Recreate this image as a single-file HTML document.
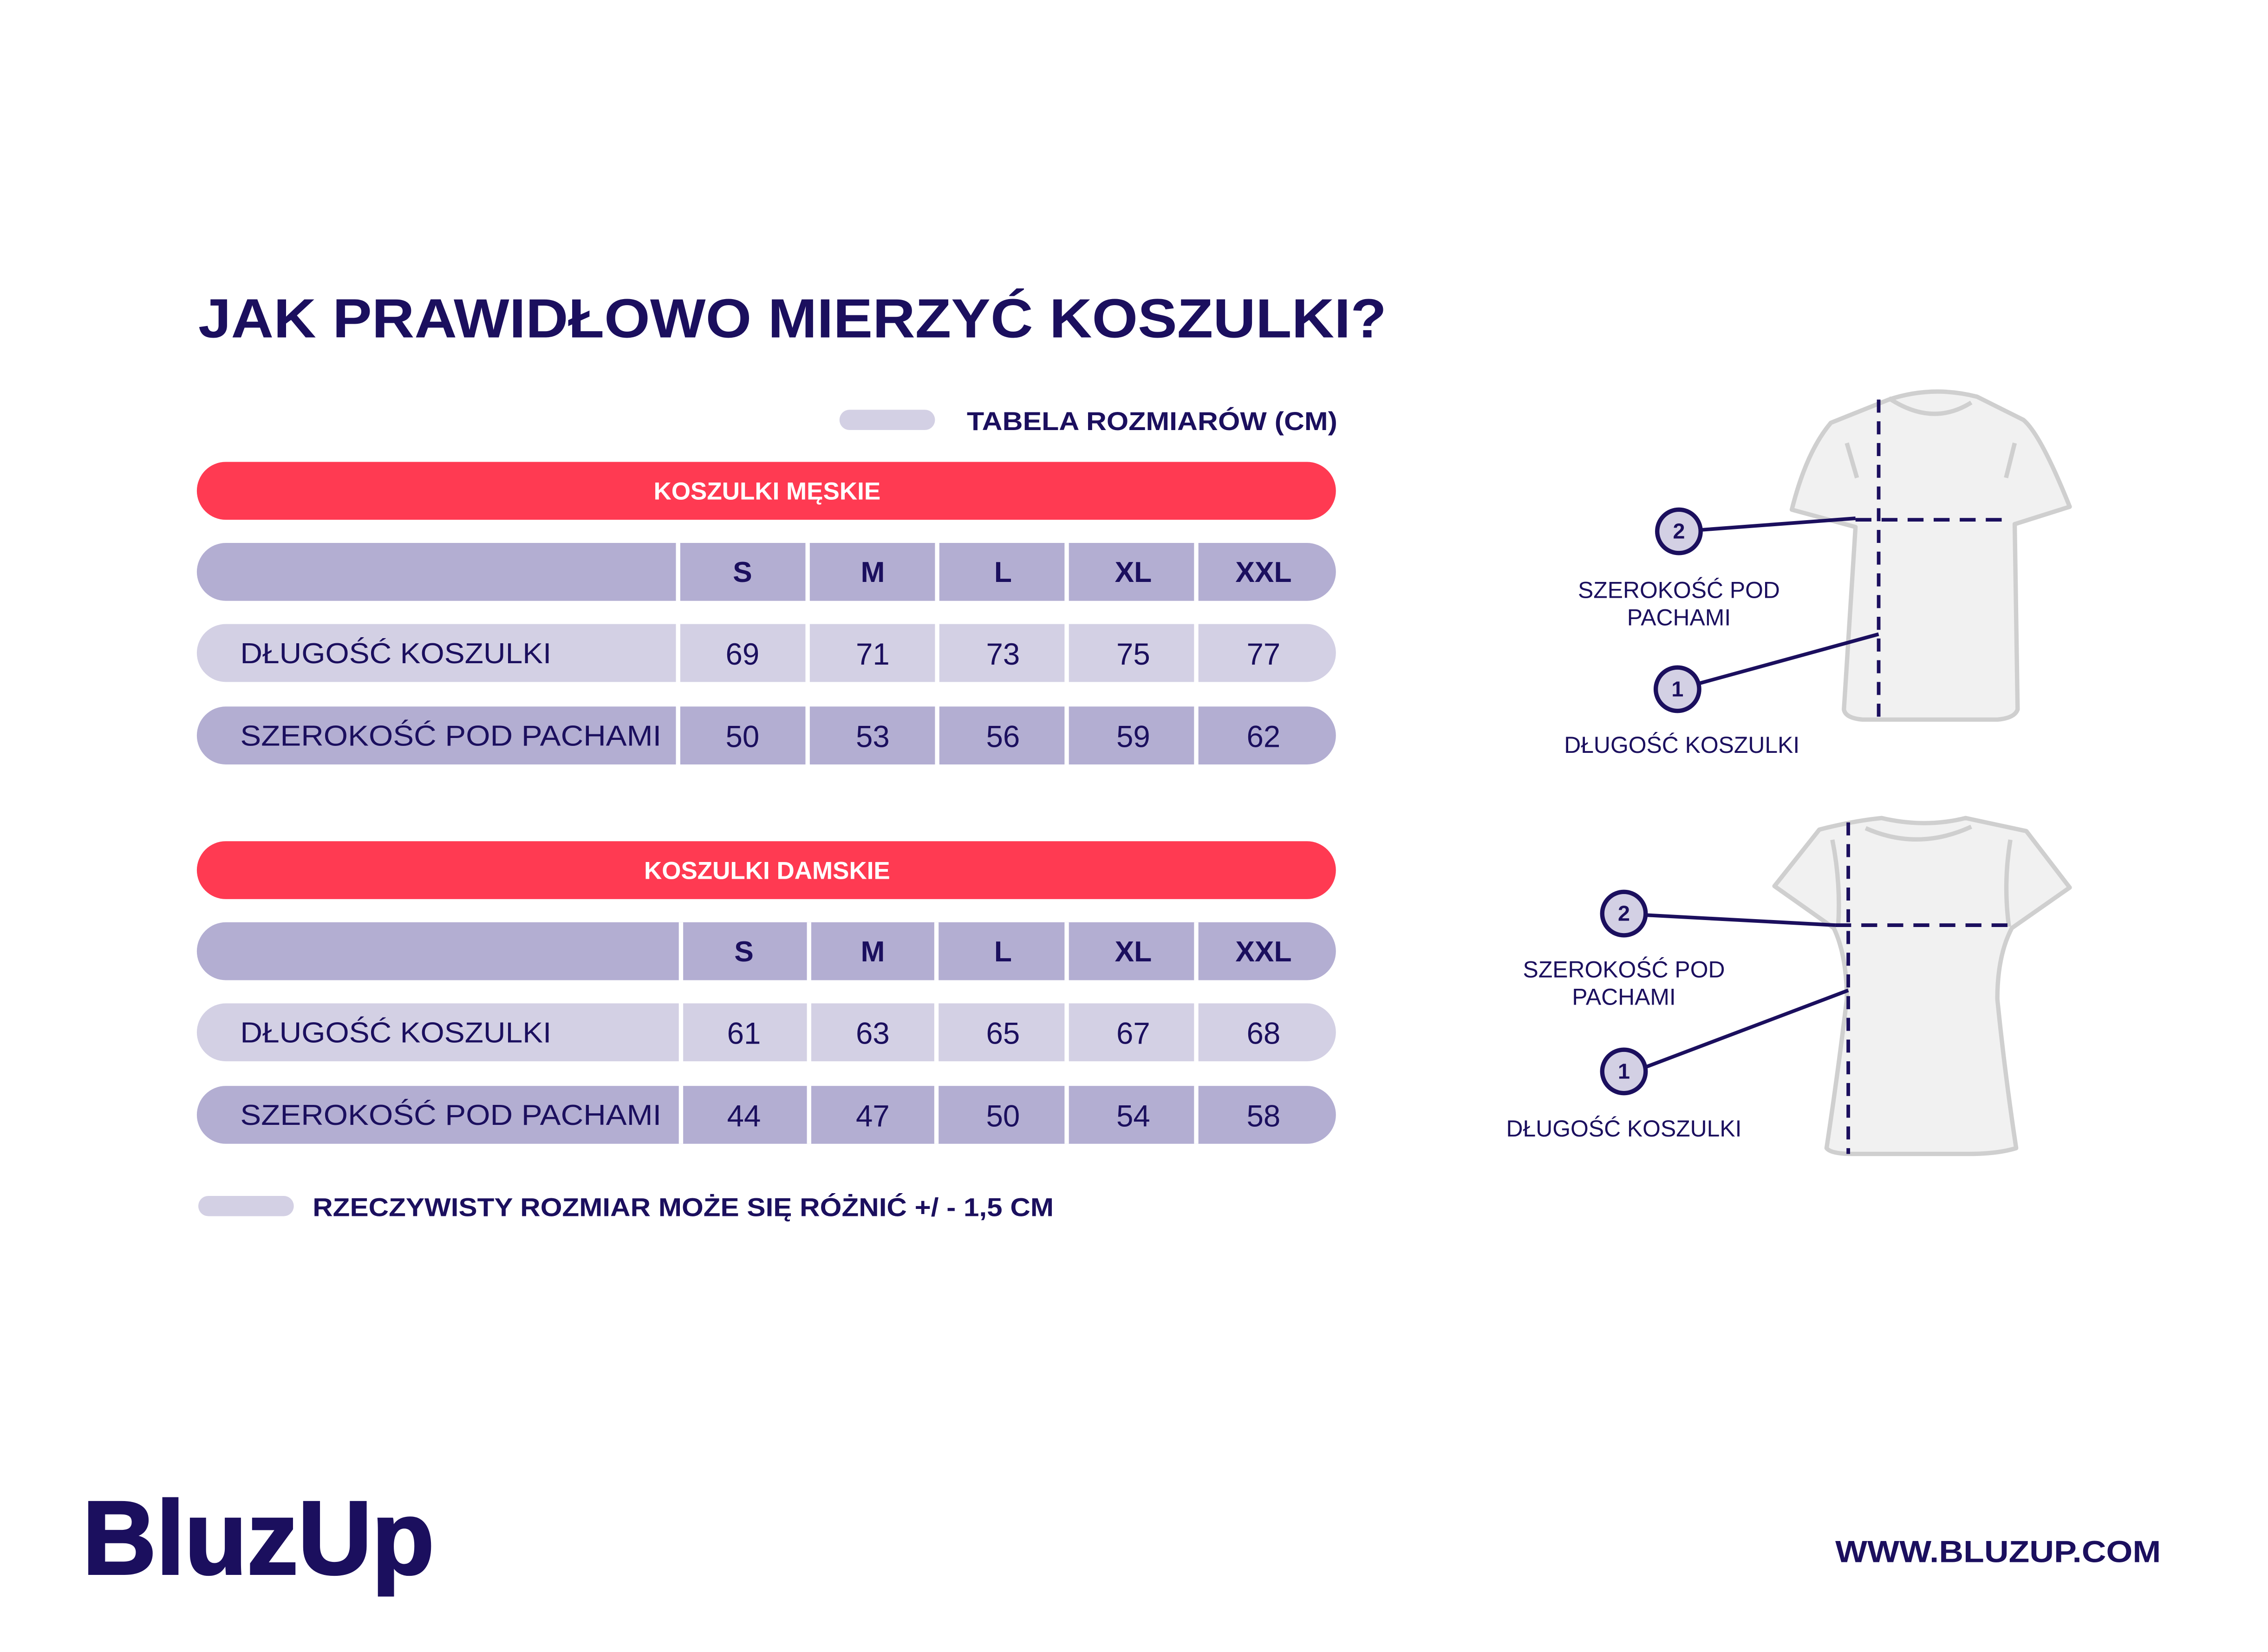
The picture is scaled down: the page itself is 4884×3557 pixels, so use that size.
<!DOCTYPE html>
<html><head><meta charset="utf-8"><style>
html,body{margin:0;padding:0;background:#fff;overflow:hidden;}
svg{display:block;}
text{font-family:"Liberation Sans",sans-serif;fill:#1b0f5e;}
</style></head><body>
<svg width="4884" height="3557" viewBox="0 0 1567 1141" preserveAspectRatio="none" xmlns="http://www.w3.org/2000/svg">
<rect width="1567" height="1141" fill="#fff"/>
<text x="137" y="233" font-size="38" font-weight="bold" textLength="821" lengthAdjust="spacingAndGlyphs">JAK PRAWIDŁOWO MIERZYĆ KOSZULKI?</text>
<rect x="580" y="283" width="66" height="14" rx="7" fill="#d3d0e4"/>
<text x="668" y="297" font-size="18" font-weight="bold" textLength="256" lengthAdjust="spacingAndGlyphs">TABELA ROZMIARÓW (CM)</text>

<!-- men -->
<rect x="136" y="319" width="787" height="40" rx="20" fill="#ff3a52"/>
<text x="530" y="345" font-size="17" font-weight="bold" text-anchor="middle" style="fill:#fff">KOSZULKI MĘSKIE</text>
<rect x="136" y="375" width="787" height="40" rx="20" fill="#b3aed2"/>
<rect x="136" y="431" width="787" height="40" rx="20" fill="#d3d0e4"/>
<rect x="136" y="488" width="787" height="40" rx="20" fill="#b3aed2"/>
<g fill="#fff">
<rect x="467" y="375" width="3" height="153"/><rect x="556.5" y="375" width="3" height="153"/><rect x="646" y="375" width="3" height="153"/><rect x="735.5" y="375" width="3" height="153"/><rect x="825" y="375" width="3" height="153"/>
</g>
<g font-size="20" font-weight="bold" text-anchor="middle">
<text x="513" y="402">S</text><text x="603" y="402">M</text><text x="693" y="402">L</text><text x="783" y="402">XL</text><text x="873" y="402">XXL</text>
</g>
<g font-size="21" text-anchor="middle">
<text x="513" y="459">69</text><text x="603" y="459">71</text><text x="693" y="459">73</text><text x="783" y="459">75</text><text x="873" y="459">77</text>
<text x="513" y="516">50</text><text x="603" y="516">53</text><text x="693" y="516">56</text><text x="783" y="516">59</text><text x="873" y="516">62</text>
</g>
<text x="166" y="458" font-size="20" textLength="215" lengthAdjust="spacingAndGlyphs">DŁUGOŚĆ KOSZULKI</text>
<text x="166" y="515" font-size="20" textLength="291" lengthAdjust="spacingAndGlyphs">SZEROKOŚĆ POD PACHAMI</text>

<!-- women -->
<rect x="136" y="581" width="787" height="40" rx="20" fill="#ff3a52"/>
<text x="530" y="607" font-size="17" font-weight="bold" text-anchor="middle" style="fill:#fff">KOSZULKI DAMSKIE</text>
<rect x="136" y="637" width="787" height="40" rx="20" fill="#b3aed2"/>
<rect x="136" y="693" width="787" height="40" rx="20" fill="#d3d0e4"/>
<rect x="136" y="750" width="787" height="40" rx="20" fill="#b3aed2"/>
<g fill="#fff">
<rect x="469" y="637" width="3" height="153"/><rect x="557.5" y="637" width="3" height="153"/><rect x="645.5" y="637" width="3" height="153"/><rect x="735.5" y="637" width="3" height="153"/><rect x="825" y="637" width="3" height="153"/>
</g>
<g font-size="20" font-weight="bold" text-anchor="middle">
<text x="514" y="664">S</text><text x="603" y="664">M</text><text x="693" y="664">L</text><text x="783" y="664">XL</text><text x="873" y="664">XXL</text>
</g>
<g font-size="21" text-anchor="middle">
<text x="514" y="721">61</text><text x="603" y="721">63</text><text x="693" y="721">65</text><text x="783" y="721">67</text><text x="873" y="721">68</text>
<text x="514" y="778">44</text><text x="603" y="778">47</text><text x="693" y="778">50</text><text x="783" y="778">54</text><text x="873" y="778">58</text>
</g>
<text x="166" y="720" font-size="20" textLength="215" lengthAdjust="spacingAndGlyphs">DŁUGOŚĆ KOSZULKI</text>
<text x="166" y="777" font-size="20" textLength="291" lengthAdjust="spacingAndGlyphs">SZEROKOŚĆ POD PACHAMI</text>

<rect x="137" y="826" width="66" height="14" rx="7" fill="#d3d0e4"/>
<text x="216" y="840" font-size="18" font-weight="bold" textLength="512" lengthAdjust="spacingAndGlyphs">RZECZYWISTY ROZMIAR MOŻE SIĘ RÓŻNIĆ +/ - 1,5 CM</text>

<text x="57" y="1087" font-size="72" font-weight="bold" textLength="243" lengthAdjust="spacingAndGlyphs" stroke="#1b0f5e" stroke-width="1.5">BluzUp</text>
<text x="1268" y="1079" font-size="21" font-weight="bold" textLength="225" lengthAdjust="spacingAndGlyphs">WWW.BLUZUP.COM</text>

<!-- men shirt -->
<g fill="#f1f1f1" stroke="#cfcfcf" stroke-width="3" stroke-linejoin="round">
<path d="M1265,292 Q1285,284 1305,276 Q1335,266 1366,274 L1398,290 Q1410,300 1430,350 L1392,362 L1394,490 Q1392,496 1380,497 L1287,497 Q1275,496 1274,490 L1282,364 L1238,352 Q1248,312 1265,292 Z"/>
<path d="M1276,306 L1283,330 M1392,306 L1386,330 M1305,275 Q1335,295 1362,278" fill="none"/>
</g>
<g stroke="#1b0f5e" fill="none">
<path d="M1298,276 V497" stroke-width="2.5" stroke-dasharray="9,6"/>
<path d="M1282,359 H1385" stroke-width="2.5" stroke-dasharray="11,7"/>
<path d="M1175,366 L1282,358" stroke-width="2.5"/>
<path d="M1174,472 L1298,438" stroke-width="2.5"/>
<circle cx="1160" cy="367" r="15" fill="#d3d0e4" stroke-width="3"/>
<circle cx="1159" cy="476" r="15" fill="#d3d0e4" stroke-width="3"/>
</g>
<g font-size="15" font-weight="bold" text-anchor="middle">
<text x="1160" y="372">2</text><text x="1159" y="481">1</text>
</g>
<g font-size="16" text-anchor="middle">
<text x="1160" y="413">SZEROKOŚĆ POD</text><text x="1160" y="432">PACHAMI</text>
<text x="1162" y="520">DŁUGOŚĆ KOSZULKI</text>
</g>

<!-- women shirt -->
<g fill="#f1f1f1" stroke="#cfcfcf" stroke-width="3" stroke-linejoin="round">
<path d="M1257,573 Q1280,567 1300,565 Q1330,572 1358,565 L1400,574 L1430,613 L1390,641 Q1380,660 1380,690 Q1385,740 1393,793 Q1380,797 1360,797 L1280,797 Q1265,797 1262,793 Q1270,740 1276,690 Q1276,660 1267,641 L1226,612 Z"/>
<path d="M1266,580 Q1272,610 1270,640 M1389,580 Q1384,610 1388,640 M1289,572 Q1325,588 1362,571" fill="none"/>
</g>
<g stroke="#1b0f5e" fill="none">
<path d="M1277,568 V797" stroke-width="2.5" stroke-dasharray="9,6"/>
<path d="M1268,639 H1387" stroke-width="2.5" stroke-dasharray="11,7"/>
<path d="M1137,632 L1268,639" stroke-width="2.5"/>
<path d="M1137,737 L1277,684" stroke-width="2.5"/>
<circle cx="1122" cy="631" r="15" fill="#d3d0e4" stroke-width="3"/>
<circle cx="1122" cy="740" r="15" fill="#d3d0e4" stroke-width="3"/>
</g>
<g font-size="15" font-weight="bold" text-anchor="middle">
<text x="1122" y="636">2</text><text x="1122" y="745">1</text>
</g>
<g font-size="16" text-anchor="middle">
<text x="1122" y="675">SZEROKOŚĆ POD</text><text x="1122" y="694">PACHAMI</text>
<text x="1122" y="785">DŁUGOŚĆ KOSZULKI</text>
</g>
</svg>
</body></html>
